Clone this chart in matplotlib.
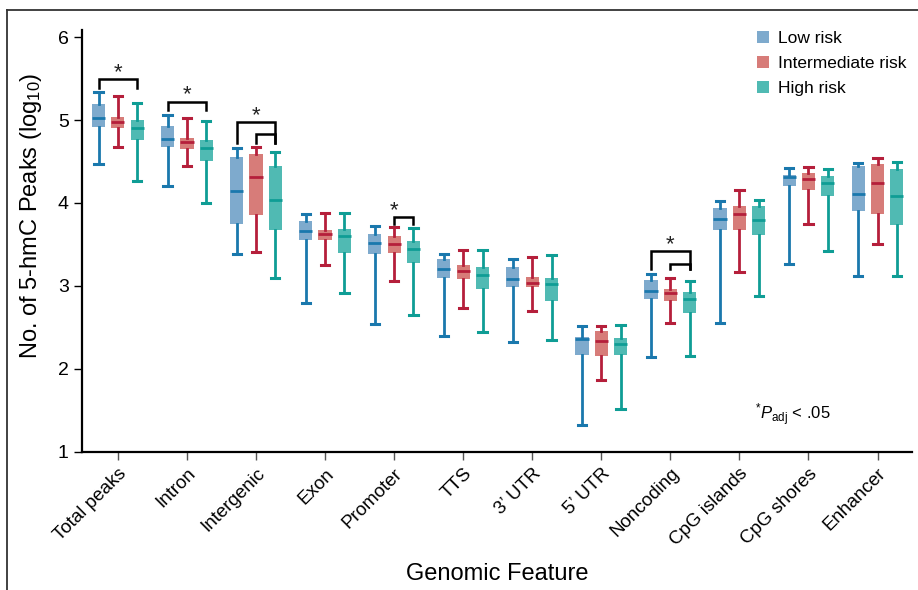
import matplotlib
matplotlib.use("Agg")
import matplotlib.pyplot as plt
from matplotlib.patches import Patch
from matplotlib.lines import Line2D
import numpy as np

plt.rcParams["font.family"] = ["Liberation Sans", "DejaVu Sans"]
plt.rcParams["mathtext.fontset"] = "custom"
plt.rcParams["mathtext.rm"] = "Liberation Sans"
plt.rcParams["mathtext.it"] = "Liberation Sans:italic"

# categories and groups
features = ["Total peaks", "Intron", "Intergenic", "Exon", "Promoter", "TTS",
            "3\u2019 UTR", "5\u2019 UTR", "Noncoding", "CpG islands", "CpG shores", "Enhancer"]
groups = ["Low risk", "Intermediate risk", "High risk"]

# box stats: (whislo, q1, med, q3, whishi) per feature
low = [(4.47, 4.91, 5.03, 5.19, 5.34), (4.20, 4.67, 4.77, 4.93, 5.06), (3.38, 3.75, 4.14, 4.55, 4.66),
       (2.80, 3.56, 3.66, 3.78, 3.87), (2.54, 3.39, 3.52, 3.63, 3.72), (2.40, 3.10, 3.21, 3.32, 3.39),
       (2.33, 2.99, 3.08, 3.23, 3.33), (1.33, 2.17, 2.36, 2.39, 2.52), (2.15, 2.84, 2.94, 3.07, 3.14),
       (2.55, 3.67, 3.81, 3.94, 4.03), (3.27, 4.20, 4.31, 4.34, 4.42), (3.12, 3.90, 4.11, 4.44, 4.48)]
inter = [(4.68, 4.90, 4.98, 5.04, 5.29), (4.44, 4.65, 4.73, 4.78, 5.02), (3.41, 3.85, 4.31, 4.59, 4.67),
         (3.25, 3.55, 3.63, 3.67, 3.88), (3.06, 3.40, 3.51, 3.60, 3.71), (2.73, 3.09, 3.18, 3.25, 3.43),
         (2.70, 2.99, 3.04, 3.11, 3.35), (1.87, 2.16, 2.34, 2.46, 2.52), (2.55, 2.82, 2.91, 2.96, 3.10),
         (3.17, 3.68, 3.87, 3.96, 4.16), (3.75, 4.16, 4.29, 4.36, 4.43), (3.50, 3.87, 4.24, 4.47, 4.54)]
high = [(4.27, 4.76, 4.90, 5.00, 5.20), (4.00, 4.51, 4.66, 4.76, 4.99), (3.10, 3.67, 4.04, 4.45, 4.62),
        (2.91, 3.40, 3.60, 3.69, 3.88), (2.65, 3.28, 3.45, 3.54, 3.70), (2.44, 2.96, 3.13, 3.23, 3.43),
        (2.35, 2.82, 3.02, 3.10, 3.37), (1.52, 2.17, 2.30, 2.37, 2.53), (2.16, 2.68, 2.84, 2.93, 3.06),
        (2.88, 3.61, 3.80, 3.96, 4.04), (3.42, 4.08, 4.24, 4.33, 4.41), (3.12, 3.74, 4.08, 4.41, 4.49)]

fills = ["#7eaacd", "#d77c79", "#50bab3"]
lines = ["#1a78ad", "#b51f3b", "#0f9d95"]

# significance brackets: (feature index, group a, group b, top y, drop y)
brackets = [(0, 0, 2, 5.49, 5.39), (1, 0, 2, 5.22, 5.12),
            (2, 0, 2, 4.97, 4.72), (2, 1, 2, 4.83, 4.72),
            (4, 1, 2, 3.83, 3.75),
            (8, 0, 2, 3.42, 3.20), (8, 1, 2, 3.27, 3.20)]
stars = [(0, 5.57), (1, 5.30), (2, 5.05), (4, 3.91), (8, 3.50)]

fig = plt.figure(figsize=(9.18, 5.9), dpi=100)
ax = fig.add_axes([0.0893, 0.234, 0.9042, 0.7145])

x = np.arange(len(features))
offset = 0.28
width = 0.19

for g, data in enumerate([low, inter, high]):
    stats = [dict(whislo=d[0], q1=d[1], med=d[2], q3=d[3], whishi=d[4], fliers=[]) for d in data]
    ax.bxp(stats, positions=x + (g - 1) * offset, widths=width, patch_artist=True,
           showfliers=False, manage_ticks=False,
           boxprops=dict(facecolor=fills[g], edgecolor="none"),
           whiskerprops=dict(color=lines[g], linewidth=2),
           capprops=dict(color=lines[g], linewidth=2.2),
           capwidths=0.12,
           medianprops=dict(color=lines[g], linewidth=2))

for fi, a, b, top, drop in brackets:
    xa = fi + (a - 1) * offset
    xb = fi + (b - 1) * offset
    ax.plot([xa, xa, xb, xb], [drop, top, top, drop], color="black", lw=1.8,
            solid_joinstyle="miter", zorder=5)
for fi, yy in stars:
    ax.text(fi, yy, "*", ha="center", va="center", fontsize=16, color="#222222")

ax.text(9.22, 1.45, r"$^{*}\mathit{P}_{\mathrm{adj}}$ < .05", fontsize=12, va="center")

ax.set_xlim(-0.52, 11.5)
ax.set_ylim(1, 6.08)
ax.set_yticks([1, 2, 3, 4, 5, 6])
ax.set_xticks(x)
ax.set_xticklabels(features, rotation=45, ha="right", rotation_mode="anchor", fontsize=13.5)
ax.tick_params(axis="y", labelsize=14, length=6, width=1)
ax.tick_params(axis="x", length=6, width=1, color="#555555")
for s in ["top", "right"]:
    ax.spines[s].set_visible(False)
for s in ["left", "bottom"]:
    ax.spines[s].set_linewidth(1.6)

ax.set_ylabel("No. of 5-hmC Peaks (log$_{10}$)", fontsize=17)
ax.yaxis.set_label_coords(-0.046, 0.56)
ax.set_xlabel("Genomic Feature", fontsize=17, labelpad=10)

handles = [Patch(facecolor=c, edgecolor="none") for c in fills]
ax.legend(handles, groups, loc="upper right", bbox_to_anchor=(1.012, 1.035), frameon=False,
          fontsize=12.5, handlelength=0.7, handleheight=0.7, handletextpad=0.5, labelspacing=0.55)

# border of the cropped figure
fig.add_artist(Line2D([7 / 918, 7 / 918], [0, 1 - 10 / 590], color="#333333", lw=1.3))
fig.add_artist(Line2D([7 / 918, 1], [1 - 10 / 590, 1 - 10 / 590], color="#333333", lw=1.3))

fig.savefig("out.png", dpi=100)
